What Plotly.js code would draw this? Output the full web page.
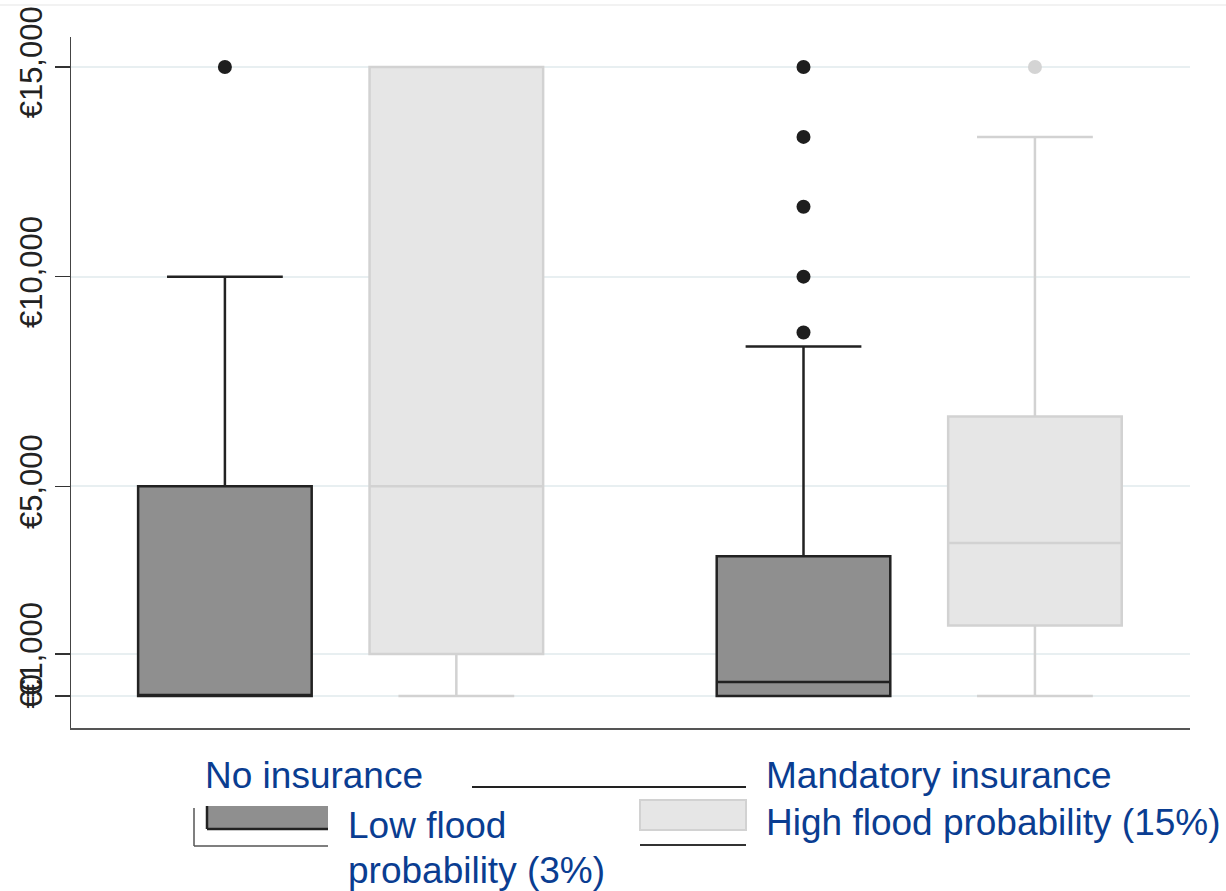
<!DOCTYPE html>
<html>
<head>
<meta charset="utf-8">
<script src="https://cdn.plot.ly/plotly-3.0.1.min.js"></script>
<style>
  html, body { margin: 0; padding: 0; background: #ffffff; }
  #chart { width: 1226px; height: 891px; }
</style>
</head>
<body>
<div id="chart"></div>
<script>
// ---- data ----
const groups = ["No insurance", "Mandatory insurance"];
const seriesNames = ["Low flood probability (3%)", "High flood probability (15%)"];
const seriesLabelLines = [["Low flood", "probability (3%)"], ["High flood probability (15%)"]];

const lowLowerFence = [0, 0];
const lowQ1 = [0, 0];
const lowMedian = [0, 333];
const lowQ3 = [5000, 3333];
const lowUpperFence = [10000, 8333];
const lowOutliers = [[15000], [8667, 10000, 11667, 13333, 15000]];

const highLowerFence = [0, 0];
const highQ1 = [1000, 1680];
const highMedian = [5000, 3650];
const highQ3 = [15000, 6667];
const highUpperFence = [15000, 13333];
const highOutliers = [[], [15000]];

const yTickVals = [0, 1000, 5000, 10000, 15000];
const yTickText = ["€0", "€1,000", "€5,000", "€10,000", "€15,000"];

// ---- styling ----
const FONT = "Liberation Sans, Arial, sans-serif";
const TEXT_BLUE = "#0a3d91";
const slot = 0.4;      // offset between the two boxes of a group
const boxW = 0.3;      // box width in category units

function positions(si) {
  return groups.map((g, gi) => gi + (si - 0.5) * slot);
}

const styles = [
  { fill: "#8f8f8f", line: "#222222", pt: "#1e1e1e" },
  { fill: "#e6e6e6", line: "#d2d2d2", pt: "#d4d4d4" }
];

const stats = [
  { lf: lowLowerFence, q1: lowQ1, md: lowMedian, q3: lowQ3, uf: lowUpperFence, out: lowOutliers },
  { lf: highLowerFence, q1: highQ1, md: highMedian, q3: highQ3, uf: highUpperFence, out: highOutliers }
];

const traces = [];
stats.forEach((s, si) => {
  const xs = positions(si);
  traces.push({
    type: "box",
    name: seriesNames[si],
    orientation: "v",
    x: xs,
    q1: s.q1, median: s.md, q3: s.q3,
    lowerfence: s.lf, upperfence: s.uf,
    boxpoints: false,
    width: boxW,
    whiskerwidth: 0.667,
    fillcolor: styles[si].fill,
    line: { color: styles[si].line, width: 2.5 },
    showlegend: false,
    hoverinfo: "skip"
  });
  const ox = [], oy = [];
  s.out.forEach((arr, gi) => arr.forEach(v => { ox.push(xs[gi]); oy.push(v); }));
  traces.push({
    type: "scatter",
    mode: "markers",
    x: ox, y: oy,
    marker: { color: styles[si].pt, size: 14 },
    showlegend: false,
    hoverinfo: "skip"
  });
});

// ---- custom legend (paper coords from pixel layout) ----
const L = 71, R = 1190, T = 37, B = 728;
const px = v => (v - L) / (R - L);
const py = v => (B - v) / (B - T);

const annotations = [
  { text: groups[0], x: px(203), y: py(775), size: 37 },
  { text: groups[1], x: px(764), y: py(775), size: 37 },
  { text: seriesLabelLines[0][0], x: px(346), y: py(826), size: 37 },
  { text: seriesLabelLines[0][1], x: px(346), y: py(870), size: 37 },
  { text: seriesLabelLines[1][0], x: px(764), y: py(822), size: 37 }
].map(a => ({
  text: a.text, x: a.x, y: a.y, xref: "paper", yref: "paper",
  xanchor: "left", yanchor: "middle", showarrow: false,
  font: { family: FONT, size: a.size, color: TEXT_BLUE }
}));

function line(x0, y0, x1, y1, color, w) {
  return { type: "line", xref: "paper", yref: "paper", x0: px(x0), y0: py(y0), x1: px(x1), y1: py(y1),
           line: { color: color, width: w } };
}
const shapes = [
  line(472, 787, 746, 787, "#222222", 2),
  { type: "rect", xref: "paper", yref: "paper", x0: px(207), y0: py(829), x1: px(328), y1: py(806),
    fillcolor: styles[0].fill, line: { width: 0 } },
  line(207, 829, 328, 829, "#222222", 2.5),
  line(207, 806, 207, 829, "#222222", 2.5),
  line(194, 808, 194, 846, "#555555", 1.5),
  line(194, 846, 328, 846, "#555555", 1.5),
  { type: "rect", xref: "paper", yref: "paper", x0: px(640), y0: py(830), x1: px(746), y1: py(800),
    fillcolor: styles[1].fill, line: { color: "#d2d2d2", width: 2 } },
  line(640, 845, 746, 845, "#333333", 2),
  line(0, 5, 1226, 5, "#eeeeee", 1.5)
];

const layout = {
  width: 1226, height: 891,
  margin: { l: L, r: 1226 - R, t: T, b: 891 - B },
  paper_bgcolor: "#ffffff", plot_bgcolor: "#ffffff",
  showlegend: false,
  boxmode: "overlay",
  xaxis: {
    range: [-0.466, 1.468],
    showticklabels: false, ticks: "", showgrid: false, zeroline: false,
    showline: true, linecolor: "#555555", linewidth: 1.5
  },
  yaxis: {
    range: [-763, 15715],
    tickvals: yTickVals, ticktext: yTickText,
    tickangle: -90,
    tickfont: { family: FONT, size: 31, color: "#222222" },
    ticks: "outside", ticklen: 15, tickcolor: "#333333", tickwidth: 1.5,
    ticklabelstandoff: 0,
    showgrid: true, gridcolor: "#e8eff1", gridwidth: 2,
    zeroline: false,
    showline: true, linecolor: "#444444", linewidth: 1.5
  },
  annotations: annotations,
  shapes: shapes
};

Plotly.newPlot("chart", traces, layout, { staticPlot: true, displayModeBar: false });
</script>
</body>
</html>
